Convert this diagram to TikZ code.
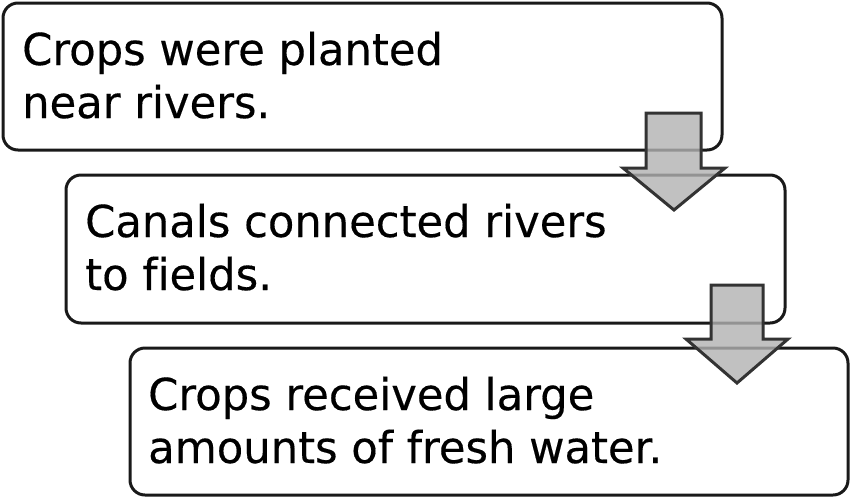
\documentclass[tikz,border=0pt]{standalone}
\usepackage{fontspec}
\setmainfont{DejaVu Sans}[Ligatures=NoCommon, FakeStretch=0.983, FakeBold=0.3]
\begin{document}
\begin{tikzpicture}[x=1pt,y=-1pt,
  stepbox/.style={draw=black!90, line width=3pt, rounded corners=15pt, fill=white},
  steptext/.style={anchor=base west, inner sep=0pt, font=\fontsize{44}{53}\selectfont, align=left},
  blockarrow/.style={draw=black!80, line width=3pt, line join=miter, fill=black!30, fill opacity=0.8}]
\useasboundingbox (0,0) rectangle (852,499);
% boxes
\path[stepbox] (3,3) rectangle (722,150);
\path[stepbox] (66,175) rectangle (785,323);
\path[stepbox] (130,348) rectangle (848,495);
\node[steptext] (t1a) at (22,65) {Crops were planted};
\node[steptext] (t1b) at (22,118) {near rivers.};
\node[steptext] (t2a) at (85,237) {Canals connected rivers};
\node[steptext] (t2b) at (85,290) {to fields.};
\node[steptext] (t3a) at (148,410) {Crops received large};
\node[steptext] (t3b) at (148,463) {amounts of fresh water.};
% arrows
\path[blockarrow] (646,113) -- (701,113) -- (701,168) -- (725,168) -- (674,210) -- (623,168) -- (646,168) -- cycle;
\path[blockarrow] (711,285) -- (763,285) -- (763,339) -- (788,339) -- (737,383) -- (686,339) -- (711,339) -- cycle;
\end{tikzpicture}
\end{document}
